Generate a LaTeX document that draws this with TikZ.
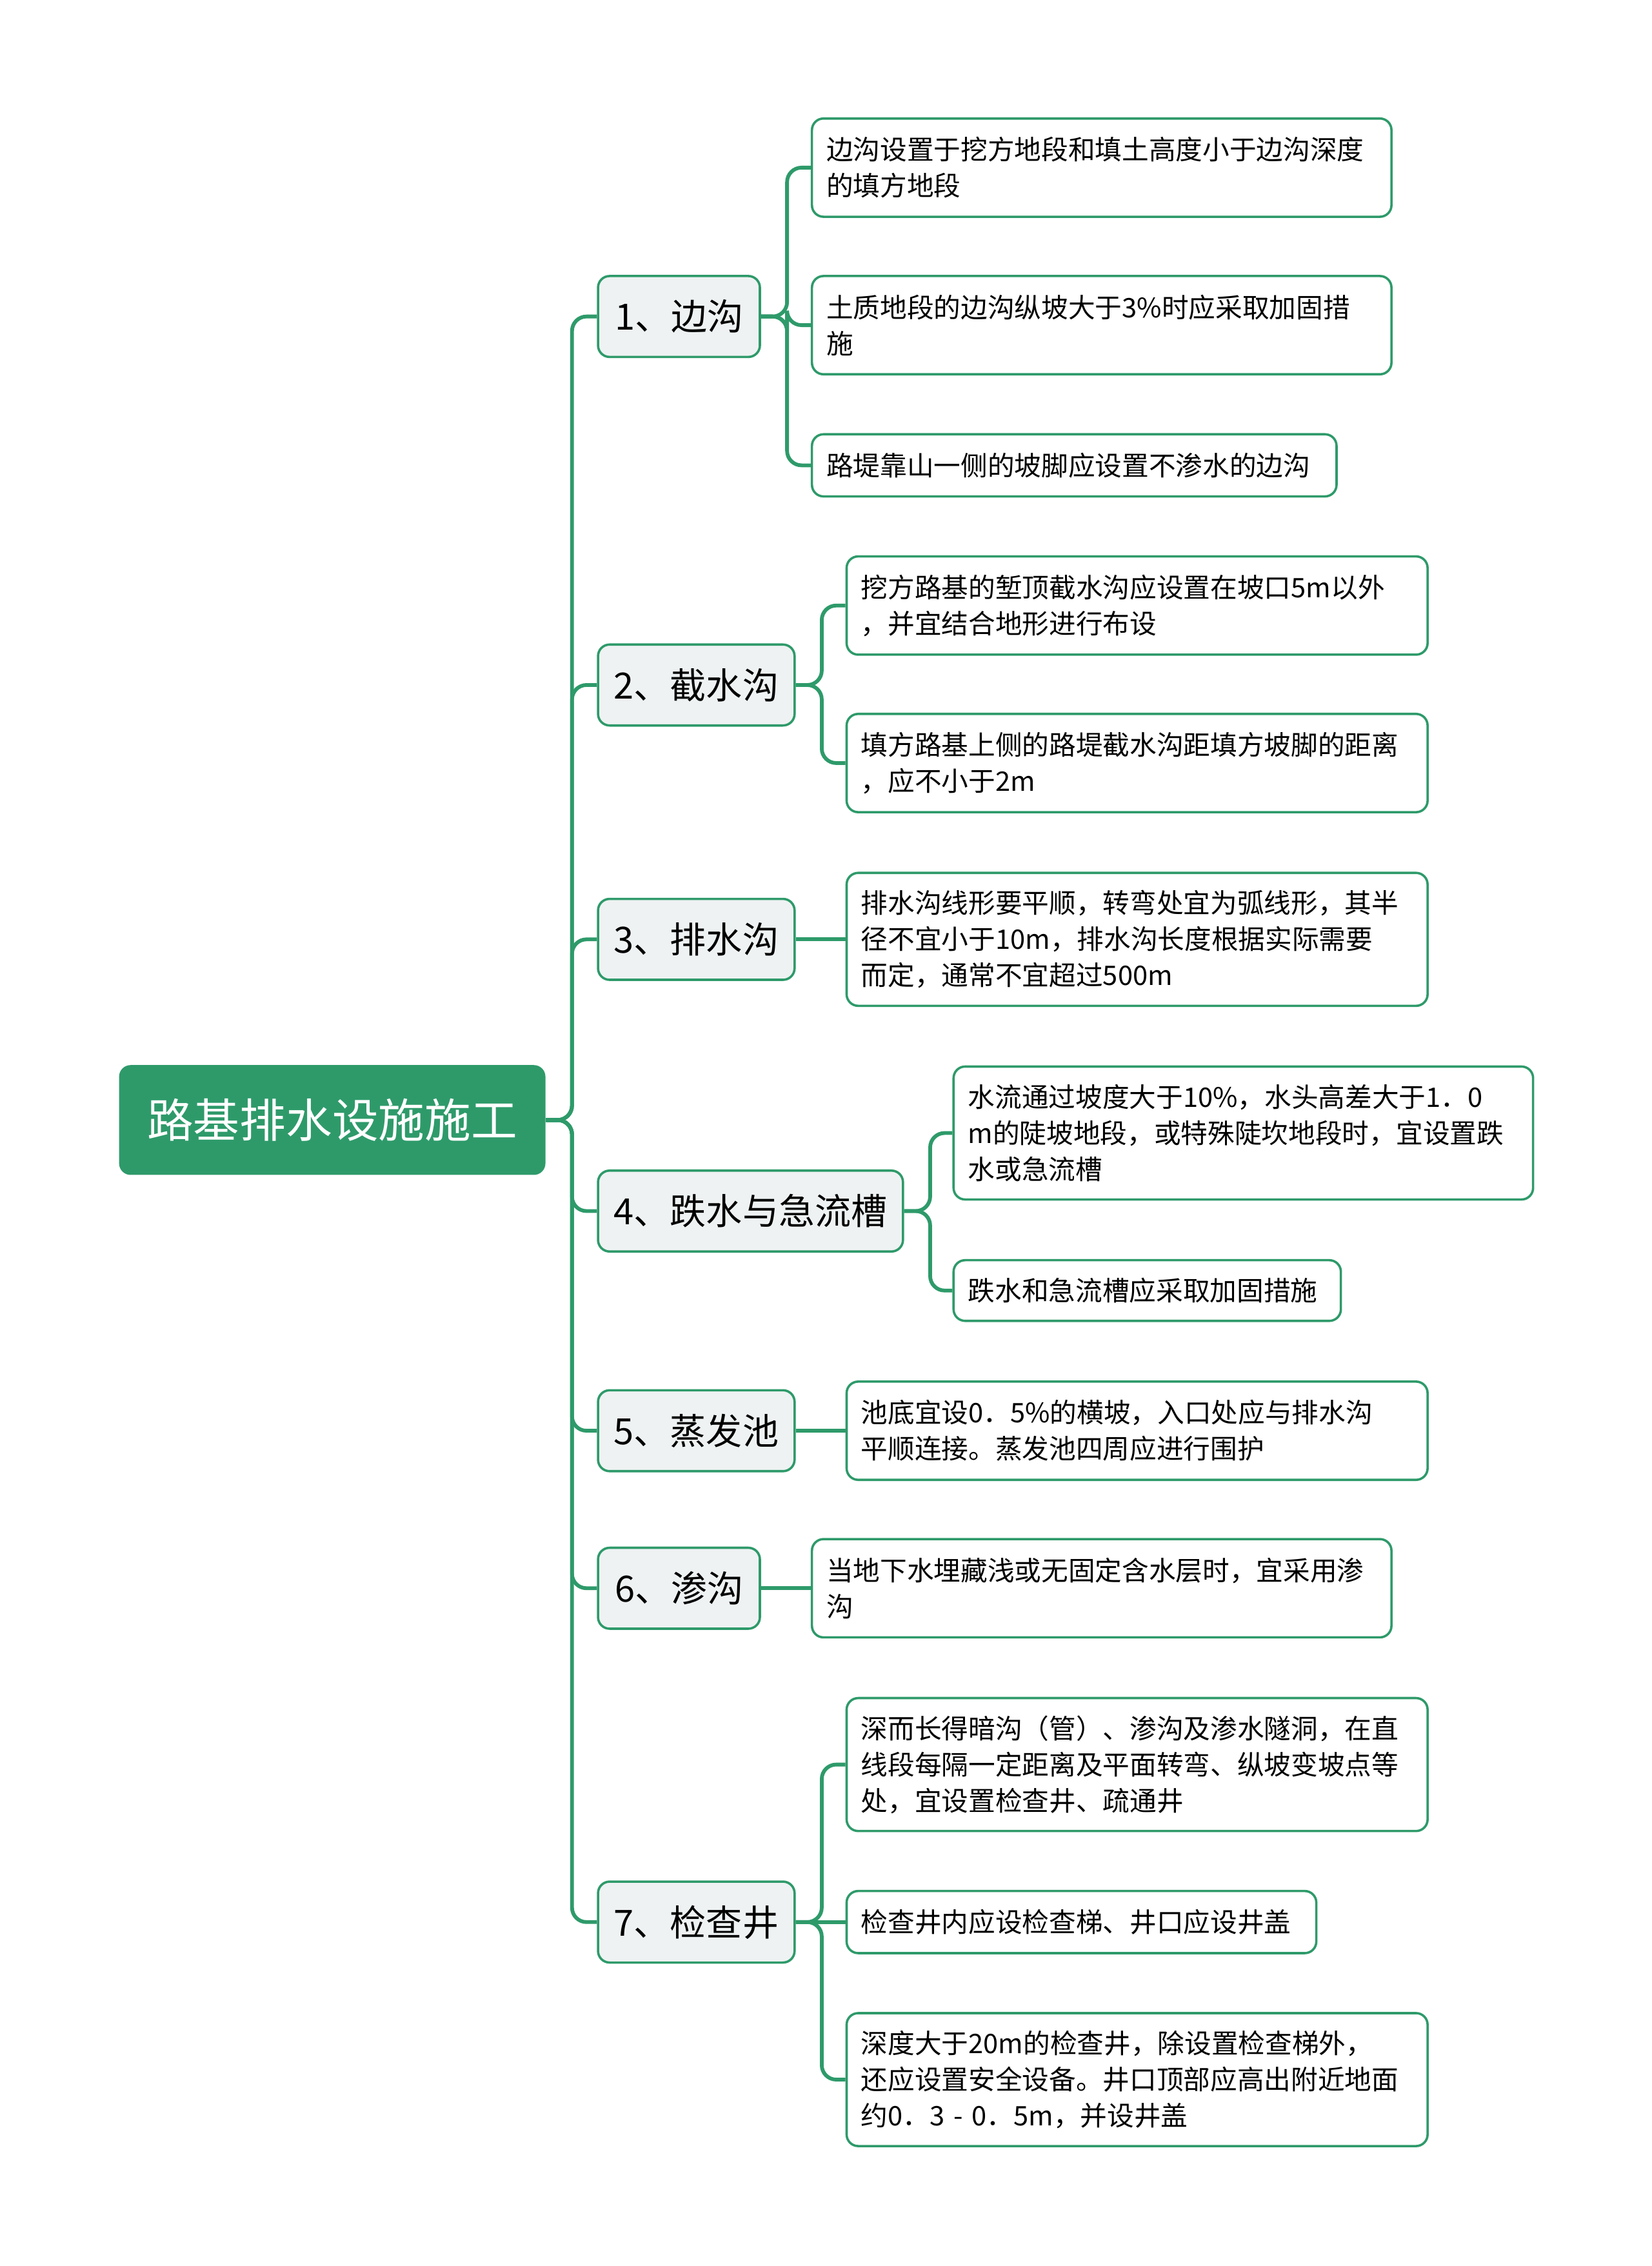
\documentclass[tikz,border=0pt]{standalone}
\usepackage{fontspec}
\setmainfont{Noto Sans CJK SC}
\definecolor{gr}{HTML}{2E9A6A}
\definecolor{bg}{HTML}{EEF2F2}
\begin{document}
\begin{tikzpicture}[x=0.5pt,y=-0.5pt,
 leaf/.style={draw=gr,fill=white,rounded corners=4pt,line width=0.8pt,align=left,inner xsep=5pt,inner ysep=0pt,anchor=west,font=\fontsize{9.3}{12.5}\selectfont},
 br/.style={draw=gr,fill=bg,rounded corners=4pt,line width=0.8pt,inner sep=0pt,anchor=west,minimum height=28pt,font=\fontsize{12.5}{15}\selectfont},
 con/.style={draw=gr,line width=1.3pt,rounded corners=5pt}]
\useasboundingbox (0,0) rectangle (1143,1568);
\node[fill=gr,rounded corners=4pt,text=white,anchor=west,minimum width=147.5pt,minimum height=38pt,font=\fontsize{16}{19}\selectfont] (root) at (82,775) {路基排水设施施工};
\node[br,minimum width=56pt] (b1) at (413,219) {1、边沟};
\node[br,minimum width=68pt] (b2) at (413,474) {2、截水沟};
\node[br,minimum width=68pt] (b3) at (413,650) {3、排水沟};
\node[br,minimum width=105.5pt] (b4) at (413,838) {4、跌水与急流槽};
\node[br,minimum width=68pt] (b5) at (413,990) {5、蒸发池};
\node[br,minimum width=56pt] (b6) at (413,1099) {6、渗沟};
\node[br,minimum width=68pt] (b7) at (413,1330) {7、检查井};
\foreach \b in {b1,b2,b3,b4,b5,b6,b7}{\draw[con] (root.east) -- ++(18,0) |- (\b.west);}
\node[leaf,text width=190.5pt,minimum height=34pt] (l11) at (561,116) {边沟设置于挖方地段和填土高度小于边沟深度\\的填方地段};
\node[leaf,text width=190.5pt,minimum height=34pt] (l12) at (561,225) {土质地段的边沟纵坡大于3\%时应采取加固措\\施};
\node[leaf,text width=171.5pt,minimum height=21.5pt] (l13) at (561,322) {路堤靠山一侧的坡脚应设置不渗水的边沟};
\node[leaf,text width=191pt,minimum height=34pt] (l21) at (585,419) {挖方路基的堑顶截水沟应设置在坡口5m以外\\，并宜结合地形进行布设};
\node[leaf,text width=191pt,minimum height=34pt] (l22) at (585,528) {填方路基上侧的路堤截水沟距填方坡脚的距离\\，应不小于2m};
\node[leaf,text width=191pt,minimum height=46pt] (l31) at (585,650) {排水沟线形要平顺，转弯处宜为弧线形，其半\\径不宜小于10m，排水沟长度根据实际需要\\而定，通常不宜超过500m};
\node[leaf,text width=190.5pt,minimum height=46pt] (l41) at (659,784) {水流通过坡度大于10\%，水头高差大于1．0\\m的陡坡地段，或特殊陡坎地段时，宜设置跌\\水或急流槽};
\node[leaf,text width=124pt,minimum height=21pt] (l42) at (659,893) {跌水和急流槽应采取加固措施};
\node[leaf,text width=191pt,minimum height=34pt] (l51) at (585,990) {池底宜设0．5\%的横坡，入口处应与排水沟\\平顺连接。蒸发池四周应进行围护};
\node[leaf,text width=190.5pt,minimum height=34pt] (l61) at (561,1099) {当地下水埋藏浅或无固定含水层时，宜采用渗\\沟};
\node[leaf,text width=191pt,minimum height=46pt] (l71) at (585,1221) {深而长得暗沟（管）、渗沟及渗水隧洞，在直\\线段每隔一定距离及平面转弯、纵坡变坡点等\\处，宜设置检查井、疏通井};
\node[leaf,text width=152.5pt,minimum height=21.5pt] (l72) at (585,1330) {检查井内应设检查梯、井口应设井盖};
\node[leaf,text width=191pt,minimum height=46pt] (l73) at (585,1439) {深度大于20m的检查井，除设置检查梯外，\\还应设置安全设备。井口顶部应高出附近地面\\约0．3 - 0．5m，并设井盖};
\foreach \p/\c in {b1/l11,b1/l12,b1/l13,b2/l21,b2/l22,b4/l41,b4/l42,b7/l71,b7/l73}{\draw[con] (\p.east) -- ++(18,0) |- (\c.west);}
\foreach \p/\c in {b3/l31,b5/l51,b6/l61,b7/l72}{\draw[con] (\p.east) -- (\c.west);}
\end{tikzpicture}
\end{document}
